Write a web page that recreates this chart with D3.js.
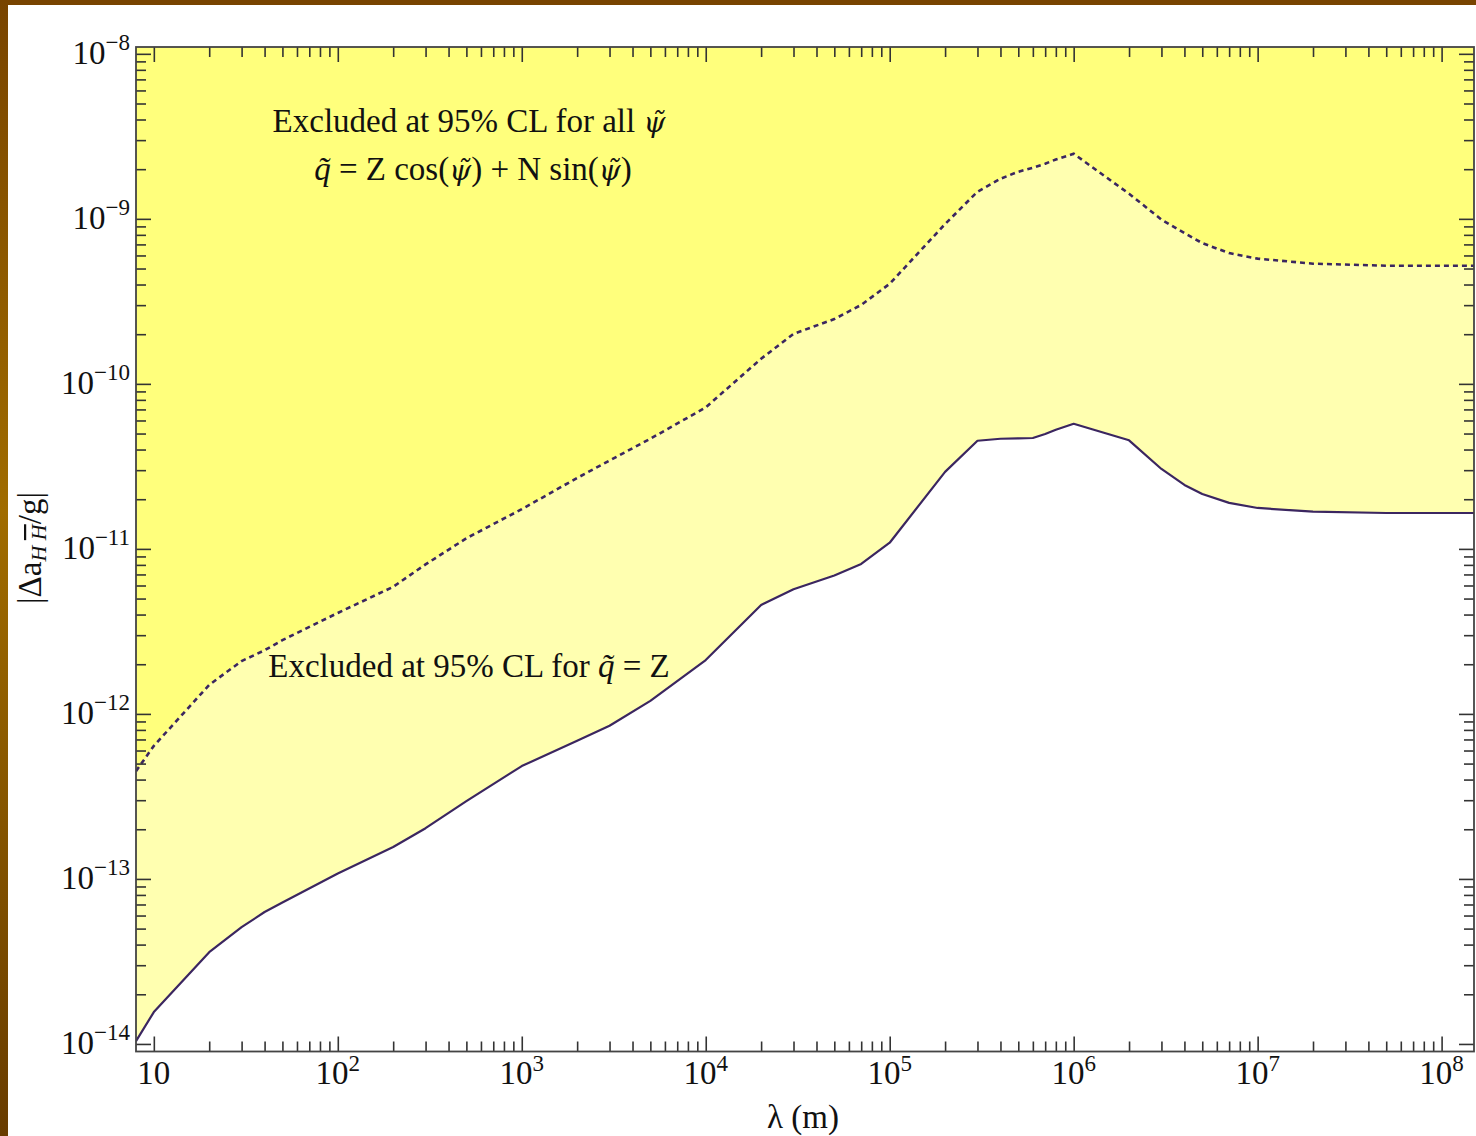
<!DOCTYPE html>
<html>
<head>
<meta charset="utf-8">
<script src="https://cdn.jsdelivr.net/npm/d3@7"></script>
<style>
  body { margin: 0; background: #fff; }
  svg text { font-family: 'Liberation Serif', 'Times New Roman', serif; fill: #111; }
</style>
</head>
<body>
<div id="chart"></div>
<script>
//Width and height
const w = 1476;
const h = 1136;

// lambda (m), shared by both curves
const lambdas = [8, 10, 20, 30, 40, 50, 100, 200, 300, 500, 1e3, 2e3, 3e3, 5e3, 1e4, 2e4, 3e4, 5e4, 7e4, 1e5,
  2e5, 3e5, 4e5, 5e5, 6e5, 7e5, 8e5, 1e6, 2e6, 3e6, 4e6, 5e6, 7e6, 1e7, 2e7, 5e7, 1.5e8];

// dashed: excluded for all psi
const allPsi = [4.5e-13, 6.4e-13, 1.5e-12, 2.09e-12, 2.43e-12, 2.8e-12, 4.09e-12, 5.89e-12, 8.05e-12, 1.16e-11,
  1.74e-11, 2.69e-11, 3.43e-11, 4.65e-11, 7.2e-11, 1.42e-10, 2.01e-10, 2.47e-10, 3.01e-10, 4.04e-10,
  9.3e-10, 1.46e-9, 1.75e-9, 1.93e-9, 2.04e-9, 2.16e-9, 2.29e-9, 2.48e-9, 1.42e-9, 9.9e-10,
  8.2e-10, 7.13e-10, 6.2e-10, 5.74e-10, 5.35e-10, 5.2e-10, 5.2e-10];

// solid: excluded for q = Z
const qEqZ = [1.04e-14, 1.56e-14, 3.6e-14, 5.1e-14, 6.3e-14, 7.2e-14, 1.08e-13, 1.56e-13, 2.03e-13, 2.96e-13,
  4.83e-13, 6.87e-13, 8.47e-13, 1.2e-12, 2.12e-12, 4.57e-12, 5.7e-12, 6.9e-12, 8.1e-12, 1.09e-11,
  2.93e-11, 4.52e-11, 4.65e-11, 4.68e-11, 4.7e-11, 4.97e-11, 5.27e-11, 5.73e-11, 4.55e-11, 3.05e-11,
  2.44e-11, 2.15e-11, 1.9e-11, 1.77e-11, 1.68e-11, 1.65e-11, 1.65e-11];

// tick labels (powers of ten)
const xTickExps = [1, 2, 3, 4, 5, 6, 7, 8];
const yTickExps = [-8, -9, -10, -11, -12, -13, -14];

const xScale = d3.scaleLog()
        .domain([8, 1.5e8])
        .range([136, 1474]);

const yScale = d3.scaleLog()
        .domain([9e-15, 1.1e-8])
        .range([1051.5, 47]);

const [x0, x1] = xScale.range();
const [y1, y0] = yScale.range();

const svg = d3.select('#chart')
      .append('svg')
      .attr('width', w)
      .attr('height', h);

const defs = svg.append('defs');
const grad = defs.append('linearGradient')
      .attr('id', 'edge')
      .attr('x1', 0).attr('y1', 0).attr('x2', 0).attr('y2', 1);
grad.append('stop').attr('offset', '0%').attr('stop-color', '#784400');
grad.append('stop').attr('offset', '45%').attr('stop-color', '#a06c00');
grad.append('stop').attr('offset', '100%').attr('stop-color', '#683c00');

defs.append('clipPath').attr('id', 'plot')
   .append('rect')
   .attr('x', x0).attr('y', y0)
   .attr('width', x1 - x0).attr('height', y1 - y0);

//slide border
svg.append('rect').attr('x', 0).attr('y', 0).attr('width', w).attr('height', 5).attr('fill', '#784400');
svg.append('rect').attr('x', 0).attr('y', 0).attr('width', 8).attr('height', h).attr('fill', 'url(#edge)');

const rows = lambdas.map((l, i) => ({ l: l, a: allPsi[i], z: qEqZ[i] }));

const plot = svg.append('g').attr('clip-path', 'url(#plot)');

//Create regions
const areaZ = d3.area()
      .x(d => xScale(d.l))
      .y0(y0)
      .y1(d => yScale(d.z));

const areaAll = d3.area()
      .x(d => xScale(d.l))
      .y0(y0)
      .y1(d => yScale(d.a));

plot.append('path').datum(rows).attr('d', areaZ).attr('fill', '#ffffb0');
plot.append('path').datum(rows).attr('d', areaAll).attr('fill', '#ffff7c');

//Create lines
const lineZ = d3.line()
      .x(d => xScale(d.l))
      .y(d => yScale(d.z));

const lineAll = d3.line()
      .x(d => xScale(d.l))
      .y(d => yScale(d.a));

plot.append('path').datum(rows).attr('d', lineZ)
   .attr('fill', 'none').attr('stroke', '#3b2660').attr('stroke-width', 2.2)
   .attr('stroke-linejoin', 'round');
plot.append('path').datum(rows).attr('d', lineAll)
   .attr('fill', 'none').attr('stroke', '#3b2660').attr('stroke-width', 2.6)
   .attr('stroke-dasharray', '5,4');

//Ticks
const xMajor = xTickExps.map(e => Math.pow(10, e));
const xMinor = [];
xTickExps.forEach(e => {
  for (let k = 2; k <= 9; k++) {
    const v = k * Math.pow(10, e);
    if (v < 1.5e8) xMinor.push(v);
  }
});
const yMajor = yTickExps.map(e => Math.pow(10, e));
const yMinor = [];
[-15].concat(yTickExps).forEach(e => {
  for (let k = 2; k <= 9; k++) {
    const v = k * Math.pow(10, e);
    if (v > 9.01e-15 && v < 1.1e-8) yMinor.push(v);
  }
});

function drawAxis(axisFn, scale, pos, values, size) {
  const a = svg.append('g')
     .attr('transform', pos)
     .call(axisFn(scale).tickValues(values).tickSize(-size).tickSizeOuter(0).tickFormat(''));
  a.select('.domain').remove();
  a.selectAll('line').attr('stroke', '#333').attr('stroke-width', 1.6);
  a.selectAll('text').remove();
  return a;
}

drawAxis(d3.axisBottom, xScale, `translate(0,${y1})`, xMinor, 10);
drawAxis(d3.axisBottom, xScale, `translate(0,${y1})`, xMajor, 15);
drawAxis(d3.axisTop, xScale, `translate(0,${y0})`, xMinor, 10);
drawAxis(d3.axisTop, xScale, `translate(0,${y0})`, xMajor, 15);
drawAxis(d3.axisLeft, yScale, `translate(${x0},0)`, yMinor, 10);
drawAxis(d3.axisLeft, yScale, `translate(${x0},0)`, yMajor, 15);
drawAxis(d3.axisRight, yScale, `translate(${x1},0)`, yMinor, 10);
drawAxis(d3.axisRight, yScale, `translate(${x1},0)`, yMajor, 15);

//Frame
svg.append('rect')
   .attr('x', x0).attr('y', y0)
   .attr('width', x1 - x0).attr('height', y1 - y0)
   .attr('fill', 'none').attr('stroke', '#444').attr('stroke-width', 1.8);

//Tick labels
svg.selectAll('text.xlab')
   .data(xTickExps)
   .enter()
   .append('text')
   .attr('class', 'xlab')
   .attr('text-anchor', 'middle')
   .attr('x', d => xScale(Math.pow(10, d)))
   .attr('y', y1 + 32)
   .attr('font-size', 33)
   .each(function(d) {
      const t = d3.select(this);
      t.append('tspan').text('10');
      if (d !== 1) t.append('tspan').attr('dy', -13).attr('font-size', 23).text(d);
   });

svg.selectAll('text.ylab')
   .data(yTickExps)
   .enter()
   .append('text')
   .attr('class', 'ylab')
   .attr('text-anchor', 'end')
   .attr('x', x0 - 6)
   .attr('y', d => yScale(Math.pow(10, d)) + 10)
   .attr('font-size', 33)
   .each(function(d) {
      const t = d3.select(this);
      t.append('tspan').text('10');
      t.append('tspan').attr('dy', -14).attr('font-size', 23).text('\u2212' + (-d));
   });

//Axis titles
svg.append('text')
   .attr('x', 803).attr('y', 1128)
   .attr('text-anchor', 'middle')
   .attr('font-size', 33)
   .text('\u03bb (m)');

const yt = svg.append('text')
   .attr('transform', 'translate(41,548) rotate(-90)')
   .attr('text-anchor', 'middle')
   .attr('font-size', 33);
yt.append('tspan').text('|\u0394a');
yt.append('tspan').attr('dy', 5).attr('font-size', 22).attr('font-style', 'italic').text('H ');
yt.append('tspan').attr('font-size', 22).attr('font-style', 'italic')
   .style('text-decoration', 'overline').text('H');
yt.append('tspan').attr('dy', -5).text('/g|');

// italic psi with combining tilde (DejaVu places the mark over the glyph)
function psiTilde(t) {
  t.append('tspan')
   .attr('font-style', 'italic')
   .attr('font-family', "'DejaVu Serif', serif")
   .attr('font-size', 28)
   .text('\u03c8\u0303');
}

//Annotations
const note1 = svg.append('text').attr('x', 469).attr('y', 132).attr('text-anchor', 'middle').attr('font-size', 33);
note1.append('tspan').text('Excluded at 95% CL for all ');
psiTilde(note1);

const note2 = svg.append('text').attr('x', 473).attr('y', 180).attr('text-anchor', 'middle').attr('font-size', 33);
note2.append('tspan').attr('font-style', 'italic').text('q\u0303');
note2.append('tspan').text(' = Z cos(');
psiTilde(note2);
note2.append('tspan').text(') + N sin(');
psiTilde(note2);
note2.append('tspan').text(')');

const note3 = svg.append('text').attr('x', 469).attr('y', 677).attr('text-anchor', 'middle').attr('font-size', 33);
note3.append('tspan').text('Excluded at 95% CL for ');
note3.append('tspan').attr('font-style', 'italic').text('q\u0303');
note3.append('tspan').text(' = Z');
</script>
</body>
</html>
